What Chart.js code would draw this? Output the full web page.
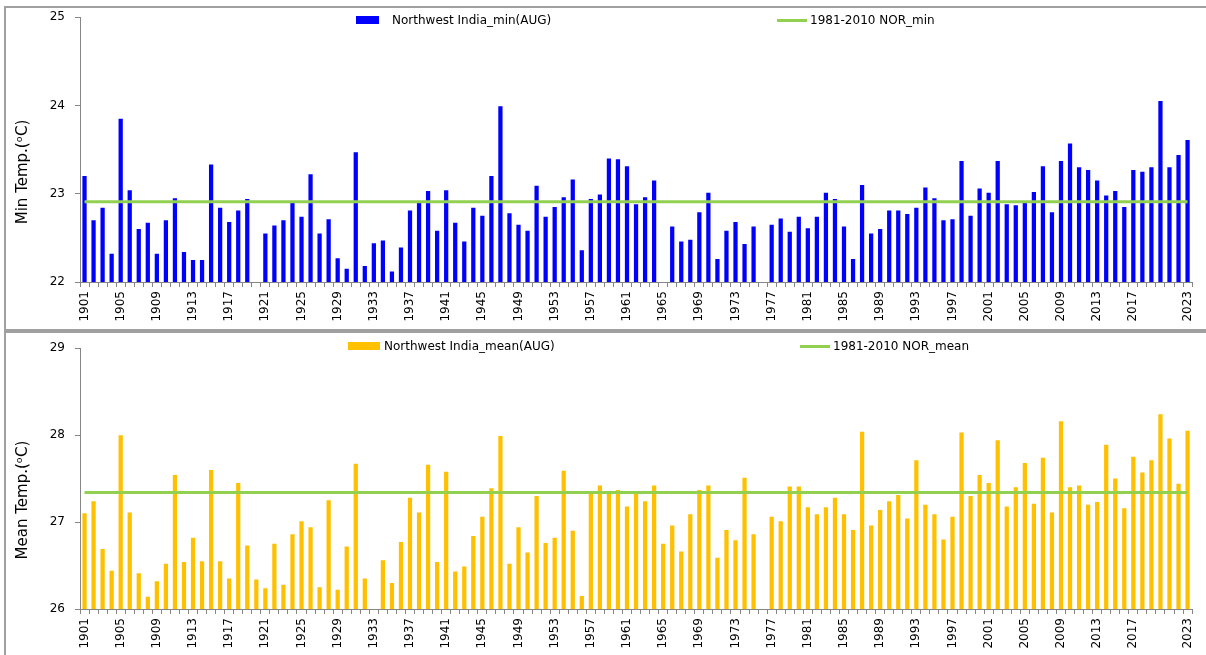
<!DOCTYPE html>
<html>
<head>
<meta charset="utf-8">
<script src="https://cdn.jsdelivr.net/npm/chart.js@4.4.1/dist/chart.umd.min.js"></script>
<style>
  body { margin:0; background:#fff; width:1206px; height:655px; overflow:hidden; position:relative; font-family:"DejaVu Sans", sans-serif; }
  canvas { position:absolute; left:0; }
  #c1 { top:0; }
  #c2 { top:331px; }
  .frame { position:absolute; border:2px solid #a0a0a0; pointer-events:none; }
  .leg { position:absolute; font-size:12px; color:#000; white-space:nowrap; line-height:14px; }
  .box { position:absolute; }
  .ln { position:absolute; height:3px; background:#92D050; }
  .ytitle { position:absolute; left:22px; font-size:15px; color:#000; white-space:nowrap;
            transform: translate(-50%,-50%) rotate(-90deg); }
</style>
</head>
<body>
<canvas id="c1" width="1206" height="331"></canvas>
<canvas id="c2" width="1206" height="324"></canvas>
<div class="frame" style="left:4px;top:6px;width:1210px;height:323px"></div>
<div class="frame" style="left:4px;top:329px;width:1210px;height:340px"></div>

<div class="box" style="left:356px;top:16px;width:23px;height:8px;background:#0000FF"></div>
<div class="leg" style="left:392px;top:13px">Northwest India_min(AUG)</div>
<div class="ln" style="left:777px;top:19px;width:30px"></div>
<div class="leg" style="left:810px;top:13px">1981-2010 NOR_min</div>

<div class="box" style="left:348px;top:342px;width:32px;height:8px;background:#FFC000"></div>
<div class="leg" style="left:384px;top:339px">Northwest India_mean(AUG)</div>
<div class="ln" style="left:800px;top:345px;width:30px"></div>
<div class="leg" style="left:833px;top:339px">1981-2010 NOR_mean</div>

<div class="ytitle" style="top:172px">Min Temp.(&#x1D52;C)</div>
<div class="ytitle" style="top:500px">Mean Temp.(&#x1D52;C)</div>

<script>
// years 1901..2023
const years = [];
for (let y = 1901; y <= 2023; y++) years.push(y);

// Northwest India, August min temperature (deg C)
const minTemp = [
  23.20, 22.70, 22.84, 22.32, 23.85, 23.04, 22.60, 22.67, 22.32, 22.70,
  22.95, 22.34, 22.25, 22.25, 23.33, 22.84, 22.68, 22.81, 22.94, null,
  22.55, 22.64, 22.70, 22.90, 22.74, 23.22, 22.55, 22.71, 22.27, 22.15,
  23.47, 22.18, 22.44, 22.47, 22.12, 22.39, 22.81, 22.90, 23.03, 22.58,
  23.04, 22.67, 22.46, 22.84, 22.75, 23.20, 23.99, 22.78, 22.65, 22.58,
  23.09, 22.74, 22.85, 22.96, 23.16, 22.36, 22.94, 22.99, 23.40, 23.39,
  23.31, 22.88, 22.96, 23.15, null,  22.63, 22.46, 22.48, 22.79, 23.01,
  22.26, 22.58, 22.68, 22.43, 22.63, null,  22.65, 22.72, 22.57, 22.74,
  22.61, 22.74, 23.01, 22.94, 22.63, 22.26, 23.10, 22.55, 22.60, 22.81,
  22.81, 22.77, 22.84, 23.07, 22.95, 22.70, 22.71, 23.37, 22.75, 23.06,
  23.01, 23.37, 22.88, 22.87, 22.90, 23.02, 23.31, 22.79, 23.37, 23.57,
  23.30, 23.27, 23.15, 22.98, 23.03, 22.85, 23.27, 23.25, 23.30, 24.05,
  23.30, 23.44, 23.61
];

// August mean temperature (deg C)
const meanTemp = [
  27.10, 27.24, 26.69, 26.44, 28.00, 27.11, 26.41, 26.14, 26.32, 26.52,
  27.54, 26.54, 26.82, 26.55, 27.60, 26.55, 26.35, 27.45, 26.73, 26.34,
  26.24, 26.75, 26.28, 26.86, 27.01, 26.94, 26.25, 27.25, 26.22, 26.72,
  27.67, 26.35, null,  26.56, 26.30, 26.77, 27.28, 27.11, 27.66, 26.54,
  27.58, 26.43, 26.49, 26.84, 27.06, 27.39, 27.99, 26.52, 26.94, 26.65,
  27.30, 26.76, 26.82, 27.59, 26.90, 26.15, 27.34, 27.42, 27.34, 27.37,
  27.18, 27.33, 27.24, 27.42, 26.75, 26.96, 26.66, 27.09, 27.37, 27.42,
  26.59, 26.91, 26.79, 27.51, 26.86, null,  27.06, 27.01, 27.41, 27.41,
  27.17, 27.09, 27.17, 27.28, 27.09, 26.91, 28.04, 26.96, 27.14, 27.24,
  27.31, 27.04, 27.71, 27.20, 27.09, 26.80, 27.06, 28.03, 27.30, 27.54,
  27.45, 27.94, 27.18, 27.40, 27.68, 27.21, 27.74, 27.11, 28.16, 27.40,
  27.42, 27.20, 27.23, 27.89, 27.50, 27.16, 27.75, 27.57, 27.71, 28.24,
  27.96, 27.44, 28.05
];

// 1981-2010 normals
const normMin = 22.91;
const normMean = 27.34;

const minAxis = [22, 25];
const meanAxis = [26, 29];

const GREY = '#868686';
const FONT = 'DejaVu Sans';

function yearLabel(v, i) {
  const y = years[i];
  if (y === 2023) return '2023';
  if (i % 4 === 0 && y !== 2021) return String(y);
  return '';
}

function makeChart(id, vals, norm, range, barColor, padTop, xH) {
  const ctx = document.getElementById(id).getContext('2d');
  return new Chart(ctx, {
    data: {
      labels: years,
      datasets: [
        { type:'line', data: years.map(() => norm), borderColor:'#92D050', borderWidth:3,
          pointRadius:0, fill:false, order:1 },
        { type:'bar', data: vals, backgroundColor: barColor, borderWidth:0,
          barPercentage:0.47, categoryPercentage:1, order:2 }
      ]
    },
    options: {
      responsive:false, animation:false, devicePixelRatio:1,
      layout: { padding: { left:0, right:7, top:padTop, bottom:4 } },
      plugins: { legend:{display:false}, tooltip:{enabled:false} },
      scales: {
        x: {
          offset:true,
          grid: { display:true, drawOnChartArea:false, offset:true, color:GREY, tickLength:5 },
          border: { color:GREY, width:1 },
          ticks: { autoSkip:false, minRotation:90, maxRotation:90, padding:4, color:'#000',
                   font:{ family:FONT, size:12 }, callback: yearLabel },
          afterFit: s => { s.height = xH; }
        },
        y: {
          min: range[0], max: range[1],
          ticks: { stepSize:1, padding:10, color:'#000', font:{ family:FONT, size:12 } },
          grid: { display:true, drawOnChartArea:false, color:GREY, tickLength:5 },
          border: { color:GREY, width:1 },
          afterFit: s => { s.width = 80; }
        }
      }
    }
  });
}

makeChart('c1', minTemp, normMin, minAxis, '#0000FF', 17, 45);
makeChart('c2', meanTemp, normMean, meanAxis, '#FFC000', 12, 42);
</script>
</body>
</html>
